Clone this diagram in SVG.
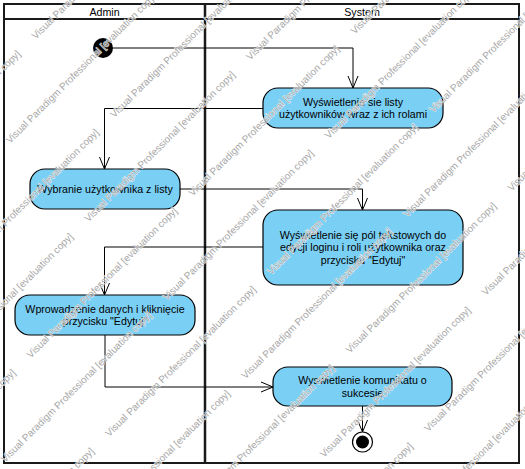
<svg xmlns="http://www.w3.org/2000/svg" width="525" height="469" viewBox="0 0 525 469">
<style>
.lane{fill:none;stroke:#1a1a1a;stroke-width:2}
.hdr{font-family:"Liberation Sans",Arial,sans-serif;font-size:10.67px;fill:#000;text-anchor:middle}
.act{fill:#7acff5;stroke:#000;stroke-width:1.2}
.lbl{font-family:"Liberation Sans",Arial,sans-serif;font-size:10.67px;fill:#000;text-anchor:middle}
.edge{fill:none;stroke:#000;stroke-width:1;marker-end:url(#arr)}
.wm{font-family:"Liberation Sans",Arial,sans-serif;font-size:10px;fill:#a8a8a8;stroke:#fff;stroke-width:0.9;stroke-opacity:0.8;paint-order:stroke;stroke-linejoin:round}
</style>
<defs>
<marker id="arr" markerUnits="userSpaceOnUse" markerWidth="16" markerHeight="14" viewBox="-14 -7 16 14" refX="0" refY="0" orient="auto">
<path d="M-12,-5 L0,0 L-12,5" fill="none" stroke="#000" stroke-width="1"/>
</marker>
</defs>
<rect width="525" height="469" fill="#fff"/>
<g id="swimlanes">
<rect class="lane" x="4" y="4" width="515" height="459"/>
<line class="lane" x1="4" y1="19" x2="519" y2="19"/>
<line class="lane" x1="205" y1="4" x2="205" y2="463" style="stroke-width:2.5"/>
<text class="hdr" x="104.5" y="15.5">Admin</text>
<text class="hdr" x="362" y="15.5">System</text>
</g>
<g id="connectors">
<path class="edge" d="M113,48 H353 V88"/>
<path class="edge" d="M263,108.5 H104.5 V169"/>
<path class="edge" d="M180,189 H362.5 V210"/>
<path class="edge" d="M263,247 H104.5 V295"/>
<path class="edge" d="M105,335 V387 H273"/>
<path class="edge" d="M362.5,406 V432"/>
</g>
<g id="initial">
<circle cx="103" cy="48" r="10" fill="#000"/>
</g>
<g id="n1">
<rect class="act" x="263" y="88" width="180" height="40" rx="15"/>
<text class="lbl" x="353" y="105.5">Wyświetlenie sie listy</text>
<text class="lbl" x="353" y="118">użytkowników wraz z ich rolami</text>
</g>
<g id="n2">
<rect class="act" x="30" y="169" width="150" height="40" rx="15"/>
<text class="lbl" x="105" y="192.8">Wybranie użytkownika z listy</text>
</g>
<g id="n3">
<rect class="act" x="263" y="210" width="200" height="75" rx="15"/>
<text class="lbl" x="363" y="238.8">Wyświetlenie się pól tekstowych do</text>
<text class="lbl" x="363" y="251.3">edycji loginu i roli użytkownika oraz</text>
<text class="lbl" x="363" y="263.8">przycisku "Edytuj"</text>
</g>
<g id="n4">
<rect class="act" x="15" y="295" width="180" height="40" rx="15"/>
<text class="lbl" x="105" y="312.5">Wprowadzenie danych i kliknięcie</text>
<text class="lbl" x="105" y="325">przycisku "Edytuj"</text>
</g>
<g id="n5">
<rect class="act" x="273" y="367" width="179" height="39" rx="15"/>
<text class="lbl" x="362.5" y="384">Wyswietlenie komunikatu o</text>
<text class="lbl" x="362.5" y="396.5">sukcesie</text>
</g>
<g id="final">
<circle cx="362.5" cy="442" r="10" fill="#fff" stroke="#000" stroke-width="1.2"/>
<circle cx="362.5" cy="442" r="6.5" fill="#000"/>
</g>
<g id="watermark" transform="translate(5,463) rotate(-45)">
<text class="wm" x="92" y="-277.5">Visual Paradigm Professional [evaluation copy]</text>
<text class="wm" x="321" y="-277.5">Visual Paradigm Professional [evaluation copy]</text>
<text class="wm" x="229" y="-222">Visual Paradigm Professional [evaluation copy]</text>
<text class="wm" x="92" y="-166.5">Visual Paradigm Professional [evaluation copy]</text>
<text class="wm" x="321" y="-166.5">Visual Paradigm Professional [evaluation copy]</text>
<text class="wm" x="0" y="-111">Visual Paradigm Professional [evaluation copy]</text>
<text class="wm" x="229" y="-111">Visual Paradigm Professional [evaluation copy]</text>
<text class="wm" x="458" y="-111">Visual Paradigm Professional [evaluation copy]</text>
<text class="wm" x="-137" y="-55.5">Visual Paradigm Professional [evaluation copy]</text>
<text class="wm" x="92" y="-55.5">Visual Paradigm Professional [evaluation copy]</text>
<text class="wm" x="321" y="-55.5">Visual Paradigm Professional [evaluation copy]</text>
<text class="wm" x="550" y="-55.5">Visual Paradigm Professional [evaluation copy]</text>
<text class="wm" x="0" y="0">Visual Paradigm Professional [evaluation copy]</text>
<text class="wm" x="229" y="0">Visual Paradigm Professional [evaluation copy]</text>
<text class="wm" x="458" y="0">Visual Paradigm Professional [evaluation copy]</text>
<text class="wm" x="-137" y="55.5">Visual Paradigm Professional [evaluation copy]</text>
<text class="wm" x="92" y="55.5">Visual Paradigm Professional [evaluation copy]</text>
<text class="wm" x="321" y="55.5">Visual Paradigm Professional [evaluation copy]</text>
<text class="wm" x="550" y="55.5">Visual Paradigm Professional [evaluation copy]</text>
<text class="wm" x="0" y="111">Visual Paradigm Professional [evaluation copy]</text>
<text class="wm" x="229" y="111">Visual Paradigm Professional [evaluation copy]</text>
<text class="wm" x="458" y="111">Visual Paradigm Professional [evaluation copy]</text>
<text class="wm" x="92" y="166.5">Visual Paradigm Professional [evaluation copy]</text>
<text class="wm" x="321" y="166.5">Visual Paradigm Professional [evaluation copy]</text>
<text class="wm" x="550" y="166.5">Visual Paradigm Professional [evaluation copy]</text>
<text class="wm" x="229" y="222">Visual Paradigm Professional [evaluation copy]</text>
<text class="wm" x="458" y="222">Visual Paradigm Professional [evaluation copy]</text>
<text class="wm" x="92" y="277.5">Visual Paradigm Professional [evaluation copy]</text>
<text class="wm" x="321" y="277.5">Visual Paradigm Professional [evaluation copy]</text>
<text class="wm" x="229" y="333">Visual Paradigm Professional [evaluation copy]</text>
</g>
</svg>
